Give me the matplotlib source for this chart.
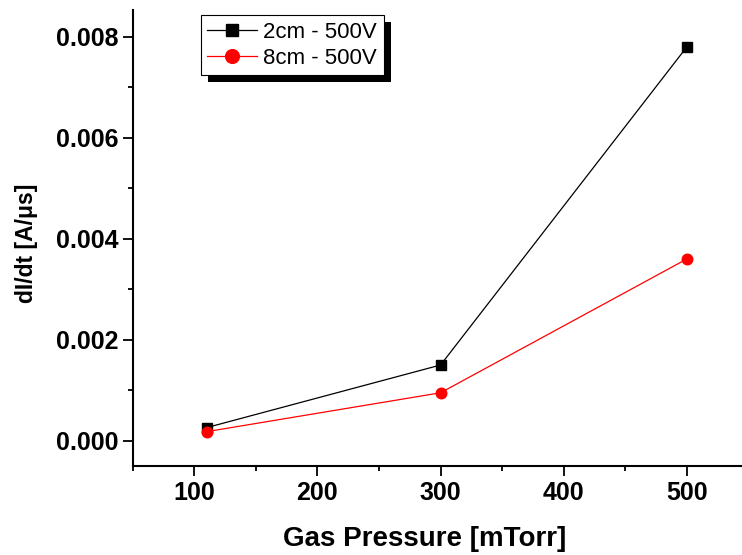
import matplotlib
matplotlib.use('Agg')
import matplotlib.pyplot as plt
from matplotlib.patches import Rectangle
from matplotlib.transforms import IdentityTransform
from matplotlib.ticker import MultipleLocator

plt.rcParams['font.family'] = ['Liberation Sans', 'DejaVu Sans']

pressure = [110, 300, 500]
didt_2cm = [0.00026, 0.0015, 0.0078]
didt_8cm = [0.00018, 0.00095, 0.0036]
labels = ['2cm - 500V', '8cm - 500V']

W, H = 742, 555
fig = plt.figure(figsize=(W / 100, H / 100), dpi=100)
# axes in pixel terms: left 132.7, bottom spine at 466, top 10
x0, x1 = 50, 550
px_per = 246.3 / 200
left = 132.7
right = left + (x1 - x0) * px_per
ax = fig.add_axes([left / W, (H - 466) / H, (right - left) / W, (466 - 10) / H])

ax.plot(pressure, didt_2cm, color='black', lw=0.9, marker='s', ms=6.8, label=labels[0])
ax.plot(pressure, didt_8cm, color='red', lw=0.9, marker='o', ms=7.6, label=labels[1])

ax.set_xlim(x0, x1)
ax.set_ylim(-0.0005, 0.00853)
ax.xaxis.set_major_locator(MultipleLocator(100))
ax.xaxis.set_minor_locator(MultipleLocator(50))
ax.yaxis.set_major_locator(MultipleLocator(0.002))
ax.yaxis.set_minor_locator(MultipleLocator(0.001))
ax.yaxis.set_major_formatter(plt.FuncFormatter(lambda v, p: f'{v:.3f}'))

for s in ['top', 'right']:
    ax.spines[s].set_visible(False)
for s in ['left', 'bottom']:
    ax.spines[s].set_linewidth(1.5)
ax.tick_params(which='major', direction='out', length=7, width=1.3, labelsize=18)
ax.tick_params(axis='x', which='major', pad=4)
ax.tick_params(axis='y', which='major', pad=3)
ax.tick_params(which='minor', direction='out', length=3.6, width=1.3)
for t in ax.get_xticklabels() + ax.get_yticklabels():
    t.set_fontweight('bold')

ax.set_xlabel('Gas Pressure [mTorr]', fontsize=20, fontweight='bold', labelpad=15)
ax.set_ylabel('dI/dt [A/\u03bcs]', fontsize=16.5, fontweight='bold', labelpad=13)
ax.xaxis.label.set_x((425 - left) / (right - left))
ax.yaxis.label.set_y(0.488)

leg = ax.legend(loc='upper left', bbox_to_anchor=((200.7) / W, (H - 15) / H),
                bbox_transform=fig.transFigure, fontsize=16, frameon=True,
                fancybox=False, edgecolor='black', framealpha=1, handlelength=2.25,
                handletextpad=0.27, borderpad=0.3, labelspacing=0.22, borderaxespad=0,
                markerscale=1.3)
leg.get_frame().set_linewidth(0.8)
leg.set_zorder(6)

fig.canvas.draw()
bb = leg.get_window_extent()
shadow = Rectangle((bb.x0 + 7, bb.y0 - 7), bb.width, bb.height, transform=IdentityTransform(),
                   facecolor='black', edgecolor='none', zorder=5.5, clip_on=False)
ax.add_artist(shadow)

fig.savefig('out.png', dpi=100)
